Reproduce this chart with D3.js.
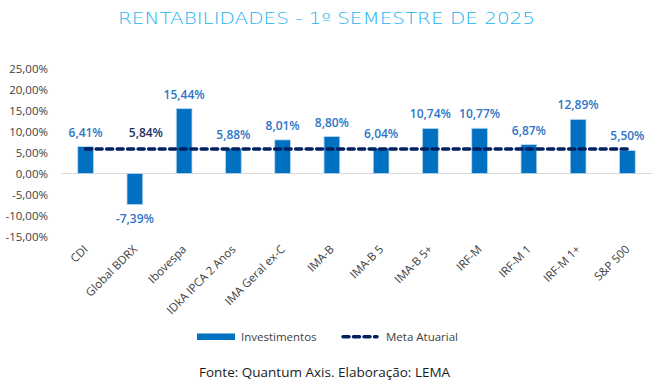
<!DOCTYPE html>
<html><head><meta charset="utf-8">
<script src="https://cdn.jsdelivr.net/npm/d3@7"></script>
<style>body{margin:0;background:#fff}svg{display:block}</style>
</head><body>
<svg id="c" width="663" height="388"></svg>
<script>
const categories = ["CDI","Global BDRX","Ibovespa","IDkA IPCA 2 Anos","IMA Geral ex-C","IMA-B","IMA-B 5","IMA-B 5+","IRF-M","IRF-M 1","IRF-M 1+","S&P 500"];
const investimentos = [6.41,-7.39,15.44,5.88,8.01,8.80,6.04,10.74,10.77,6.87,12.89,5.50];
const metaAtuarial = [5.84,5.84,5.84,5.84,5.84,5.84,5.84,5.84,5.84,5.84,5.84,5.84];
const yTicks = [25,20,15,10,5,0,-5,-10,-15];
const fmt = v => v.toFixed(2).replace(".", ",") + "%";

const svg = d3.select("#c");
const font = "'Open Sans', 'Noto Sans', sans-serif";
const x = d3.scaleBand().domain(categories).range([61, 652]).paddingInner(0.68).paddingOuter(0.34);
const y = d3.scaleLinear().domain([-15, 25]).range([236.5, 68.5]);

// title
svg.append("text").attr("x", 118).attr("y", 24).attr("textLength", 417).attr("lengthAdjust", "spacingAndGlyphs")
  .attr("font-family", "'DejaVu Sans', sans-serif").attr("font-weight", 200).attr("font-size", 15)
  .attr("fill", "#1CB4F0").text("RENTABILIDADES - 1º SEMESTRE DE 2025");

// y axis labels
const ya = svg.append("g").attr("transform", "translate(48,0)")
  .call(d3.axisLeft(y).tickValues(yTicks).tickSize(0).tickPadding(0).tickFormat(fmt));
ya.select(".domain").remove();
ya.selectAll("text").attr("font-family", font).attr("font-size", 11.5).attr("fill", "#404040");

// zero line
svg.append("line").attr("x1", 61).attr("x2", 652).attr("y1", y(0)).attr("y2", y(0))
  .attr("stroke", "#D9D9D9").attr("stroke-width", 1);

// bars
svg.selectAll("rect.bar").data(investimentos).join("rect").attr("class", "bar")
  .attr("x", (d, i) => x(categories[i])).attr("width", x.bandwidth())
  .attr("y", d => y(Math.max(0, d))).attr("height", d => Math.abs(y(d) - y(0)))
  .attr("fill", "#0070C0").attr("stroke", "#BDD7EE").attr("stroke-width", 0.8);

// bar labels
svg.selectAll("text.bl").data(investimentos).join("text").attr("class", "bl")
  .attr("x", (d, i) => x(categories[i]) + x.bandwidth() / 2)
  .attr("y", d => d >= 0 ? y(d) - 10 : y(d) + 18)
  .attr("text-anchor", "middle").attr("font-family", font).attr("font-weight", 600)
  .attr("font-size", 12).attr("fill", "#2E75C8").text(fmt);

// meta line
const line = d3.line().x((d, i) => x(categories[i]) + x.bandwidth() / 2).y(d => y(d));
svg.append("path").datum(metaAtuarial).attr("d", line).attr("fill", "none")
  .attr("stroke", "#002060").attr("stroke-width", 3.5).attr("stroke-dasharray", "6,4.5").attr("stroke-linecap", "round");

// meta label
svg.append("text").attr("x", x(categories[1]) + x.bandwidth() / 2 + 11).attr("y", y(metaAtuarial[1]) - 12)
  .attr("text-anchor", "middle").attr("font-family", font).attr("font-weight", 600)
  .attr("font-size", 12).attr("fill", "#1F2F5E").text(fmt(metaAtuarial[1]));

// x labels
svg.selectAll("text.xl").data(categories).join("text").attr("class", "xl")
  .attr("transform", d => `translate(${x(d) + x.bandwidth() / 2 + 3},${250}) rotate(-45)`)
  .attr("text-anchor", "end").attr("font-family", font).attr("font-size", 11.5)
  .attr("fill", "#404040").text(d => d);

// legend
svg.append("rect").attr("x", 197).attr("y", 333.5).attr("width", 38).attr("height", 6.5).attr("fill", "#0070C0");
svg.append("text").attr("x", 241).attr("y", 341).attr("font-family", font).attr("font-size", 11.5)
  .attr("fill", "#404040").text("Investimentos");
svg.append("line").attr("x1", 343).attr("x2", 377).attr("y1", 336.7).attr("y2", 336.7)
  .attr("stroke", "#002060").attr("stroke-width", 3.5).attr("stroke-dasharray", "6,4.5").attr("stroke-linecap", "round");
svg.append("text").attr("x", 386).attr("y", 341).attr("font-family", font).attr("font-size", 11.5)
  .attr("fill", "#404040").text("Meta Atuarial");

// source
svg.append("text").attr("x", 199).attr("y", 377).attr("font-family", font).attr("font-size", 13.5)
  .attr("fill", "#1a1a1a").text("Fonte: Quantum Axis. Elaboração: LEMA");
</script>
</body></html>
